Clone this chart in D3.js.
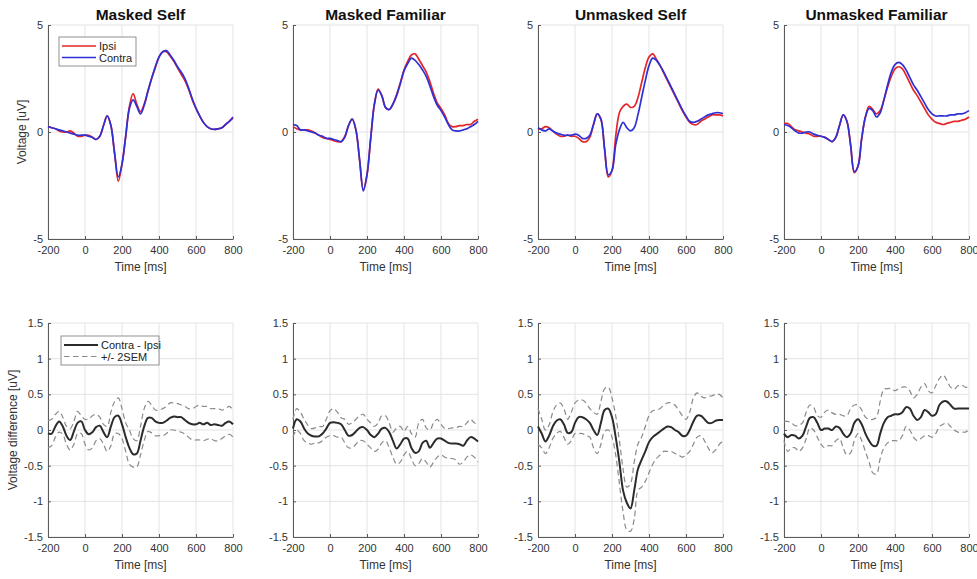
<!DOCTYPE html>
<html>
<head>
<meta charset="utf-8">
<script src="https://cdn.jsdelivr.net/npm/d3@7"></script>
<style>
  body { margin: 0; background: #fff; }
  svg { display: block; font-family: "Liberation Sans", Arial, sans-serif; }
</style>
</head>
<body>
<script>
// time axis (ms), one sample every 20 ms
const times = d3.range(-200, 801, 20);

const titles = ['Masked Self', 'Masked Familiar', 'Unmasked Self', 'Unmasked Familiar'];
const xTicks = [-200, 0, 200, 400, 600, 800];
const topYTicks = [-5, 0, 5];
const bottomYTicks = [-1.5, -1, -0.5, 0, 0.5, 1, 1.5];

// ERPs [uV]
const maskedSelfIpsi = [0.25,0.2,0.15,0.05,0.0,0.0,0.05,-0.05,-0.2,-0.2,-0.15,-0.15,-0.25,-0.35,-0.2,0.3,0.75,0.3,-1.0,-2.3,-1.5,-0.2,1.2,1.8,1.3,0.95,1.3,1.9,2.5,3.0,3.5,3.75,3.75,3.55,3.3,3.0,2.7,2.4,2.0,1.5,1.1,0.75,0.45,0.25,0.15,0.12,0.15,0.2,0.35,0.5,0.65];
const maskedSelfContra = [0.25,0.2,0.15,0.1,0.05,0.0,-0.05,-0.1,-0.15,-0.15,-0.15,-0.2,-0.25,-0.35,-0.2,0.3,0.75,0.3,-1.0,-2.1,-1.5,-0.2,1.1,1.5,1.2,0.85,1.25,1.9,2.5,3.05,3.5,3.75,3.8,3.6,3.35,3.05,2.8,2.5,2.05,1.55,1.1,0.75,0.45,0.25,0.15,0.12,0.15,0.2,0.35,0.5,0.7];
const maskedFamiliarIpsi = [0.25,0.15,0.1,0.1,0.1,0.05,-0.05,-0.15,-0.25,-0.3,-0.35,-0.4,-0.45,-0.45,-0.2,0.3,0.6,0.1,-1.3,-2.7,-2.0,-0.3,1.3,2.0,1.7,1.15,1.05,1.3,1.75,2.3,2.9,3.3,3.6,3.65,3.4,3.1,2.8,2.35,1.8,1.35,1.1,0.8,0.4,0.25,0.25,0.3,0.3,0.35,0.35,0.5,0.6];
const maskedFamiliarContra = [0.35,0.3,0.1,0.1,0.05,0.0,-0.05,-0.15,-0.2,-0.3,-0.3,-0.35,-0.4,-0.45,-0.25,0.3,0.6,0.1,-1.3,-2.75,-2.0,-0.3,1.3,1.95,1.7,1.15,1.05,1.3,1.7,2.25,2.85,3.2,3.45,3.35,3.15,2.9,2.6,2.15,1.65,1.25,1.0,0.7,0.35,0.1,0.05,0.05,0.1,0.15,0.25,0.35,0.5];
const unmaskedSelfIpsi = [0.15,0.15,0.25,0.2,0.05,-0.1,-0.2,-0.2,-0.15,-0.2,-0.2,-0.3,-0.45,-0.45,-0.25,0.35,0.85,0.6,-0.8,-2.1,-1.8,-0.2,0.9,1.2,1.3,1.15,1.2,1.6,2.3,3.0,3.5,3.65,3.4,3.1,2.75,2.4,2.05,1.7,1.35,1.0,0.7,0.45,0.35,0.35,0.5,0.6,0.7,0.8,0.8,0.8,0.75];
const unmaskedSelfContra = [0.2,0.1,0.05,0.15,0.05,-0.05,-0.1,-0.15,-0.15,-0.15,-0.1,-0.15,-0.3,-0.3,-0.15,0.35,0.85,0.6,-0.8,-2.0,-1.8,-0.6,0.1,0.45,0.2,0.05,0.2,0.8,1.6,2.4,3.1,3.45,3.35,3.1,2.8,2.45,2.1,1.75,1.4,1.05,0.75,0.5,0.45,0.5,0.6,0.7,0.8,0.85,0.9,0.9,0.85];
const unmaskedFamiliarIpsi = [0.4,0.4,0.25,0.1,0.05,0.0,-0.05,-0.1,-0.2,-0.2,-0.2,-0.25,-0.35,-0.45,-0.25,0.3,0.8,0.5,-0.6,-1.9,-1.6,-0.3,0.7,1.2,1.05,0.85,1.0,1.5,2.1,2.6,2.95,3.05,2.95,2.65,2.3,1.95,1.7,1.4,1.1,0.8,0.6,0.45,0.4,0.35,0.4,0.45,0.5,0.5,0.55,0.6,0.7];
const unmaskedFamiliarContra = [0.35,0.3,0.2,0.05,-0.05,-0.05,0.0,0.0,-0.1,-0.15,-0.2,-0.25,-0.35,-0.45,-0.25,0.3,0.8,0.5,-0.6,-1.85,-1.6,-0.3,0.7,1.1,1.0,0.7,0.9,1.5,2.2,2.8,3.15,3.25,3.15,2.9,2.55,2.2,1.95,1.65,1.35,1.05,0.85,0.75,0.75,0.75,0.75,0.8,0.8,0.85,0.85,0.9,1.0];

// Contra - Ipsi and +/- 2SEM bounds [uV]
const maskedSelfDiff = [-0.05,-0.05,0.05,0.12,0.05,-0.08,-0.14,-0.02,0.1,0.12,0.0,-0.06,-0.03,0.04,0.06,-0.03,-0.1,0.05,0.18,0.2,0.08,-0.1,-0.25,-0.34,-0.33,-0.15,0.05,0.17,0.17,0.12,0.1,0.1,0.13,0.17,0.19,0.18,0.18,0.14,0.1,0.08,0.08,0.1,0.08,0.1,0.07,0.08,0.07,0.06,0.1,0.12,0.08];
const maskedSelfUpper = [0.13,0.15,0.22,0.26,0.18,0.05,0.02,0.12,0.26,0.2,0.15,0.15,0.2,0.22,0.18,0.08,0.05,0.25,0.4,0.45,0.3,0.1,0.0,-0.12,-0.15,0.05,0.3,0.4,0.35,0.28,0.28,0.3,0.33,0.38,0.38,0.37,0.35,0.33,0.3,0.3,0.33,0.35,0.33,0.33,0.3,0.3,0.3,0.28,0.3,0.33,0.28];
const maskedSelfLower = [-0.25,-0.22,-0.1,-0.03,-0.06,-0.2,-0.28,-0.2,-0.05,-0.05,-0.2,-0.28,-0.25,-0.15,-0.12,-0.2,-0.3,-0.22,-0.05,-0.05,-0.12,-0.3,-0.48,-0.52,-0.52,-0.35,-0.15,-0.02,-0.04,-0.08,-0.08,-0.08,-0.05,0.0,0.0,-0.02,-0.03,-0.06,-0.1,-0.14,-0.14,-0.14,-0.15,-0.13,-0.12,-0.15,-0.15,-0.12,-0.08,-0.06,-0.1];
const maskedFamiliarDiff = [0.02,0.15,0.12,0.02,-0.05,-0.08,-0.09,-0.09,-0.05,0.02,0.1,0.11,0.1,0.08,0.0,-0.08,-0.07,-0.02,0.03,0.04,0.0,-0.07,-0.1,-0.05,0.02,0.03,-0.03,-0.15,-0.26,-0.2,-0.12,-0.12,-0.25,-0.32,-0.3,-0.18,-0.15,-0.25,-0.18,-0.12,-0.12,-0.15,-0.18,-0.19,-0.19,-0.2,-0.22,-0.15,-0.1,-0.12,-0.16];
const maskedFamiliarUpper = [0.15,0.3,0.25,0.15,0.07,0.02,0.03,0.05,0.05,0.15,0.27,0.3,0.25,0.17,0.15,0.08,0.1,0.15,0.2,0.22,0.15,0.1,0.05,0.1,0.2,0.2,0.1,-0.03,0.03,0.05,-0.02,0.05,-0.05,-0.1,0.1,0.15,0.03,0.0,0.1,0.15,0.08,0.02,0.02,0.03,0.03,0.05,0.05,0.1,0.15,0.1,0.08];
const maskedFamiliarLower = [-0.1,0.0,-0.05,-0.15,-0.18,-0.2,-0.18,-0.18,-0.15,-0.1,-0.08,-0.08,-0.1,-0.1,-0.18,-0.25,-0.25,-0.2,-0.15,-0.15,-0.2,-0.25,-0.3,-0.27,-0.18,-0.15,-0.25,-0.38,-0.48,-0.45,-0.35,-0.3,-0.4,-0.5,-0.47,-0.4,-0.45,-0.52,-0.45,-0.38,-0.35,-0.38,-0.4,-0.4,-0.42,-0.48,-0.45,-0.38,-0.35,-0.38,-0.45];
const unmaskedSelfDiff = [0.05,-0.05,-0.16,-0.08,0.05,0.13,0.15,0.08,-0.04,-0.03,0.1,0.18,0.18,0.15,0.1,0.0,-0.07,0.1,0.28,0.3,0.18,-0.1,-0.45,-0.85,-1.02,-1.1,-0.85,-0.55,-0.42,-0.3,-0.17,-0.1,-0.06,-0.02,0.02,0.05,0.04,0.0,-0.03,-0.08,-0.08,0.0,0.12,0.2,0.2,0.15,0.1,0.1,0.13,0.14,0.14];
const unmaskedSelfUpper = [0.3,0.15,0.0,0.07,0.25,0.35,0.38,0.3,0.15,0.25,0.38,0.42,0.42,0.38,0.3,0.25,0.22,0.4,0.58,0.6,0.45,0.2,-0.15,-0.55,-0.8,-0.75,-0.45,-0.2,-0.1,0.05,0.2,0.27,0.28,0.3,0.35,0.38,0.38,0.35,0.28,0.2,0.15,0.25,0.45,0.52,0.48,0.45,0.47,0.48,0.5,0.5,0.45];
const unmaskedSelfLower = [-0.2,-0.25,-0.33,-0.25,-0.12,-0.05,-0.02,-0.1,-0.2,-0.15,-0.05,-0.05,-0.05,-0.08,-0.1,-0.25,-0.33,-0.2,-0.02,0.0,-0.1,-0.35,-0.75,-1.15,-1.4,-1.42,-1.25,-0.85,-0.8,-0.72,-0.6,-0.48,-0.4,-0.35,-0.3,-0.3,-0.3,-0.33,-0.35,-0.38,-0.35,-0.3,-0.2,-0.1,-0.08,-0.15,-0.25,-0.32,-0.28,-0.2,-0.15];
const unmaskedFamiliarDiff = [-0.05,-0.1,-0.07,-0.08,-0.12,-0.08,0.05,0.17,0.18,0.1,0.0,0.02,0.02,0.0,0.05,0.03,-0.05,-0.1,-0.05,0.1,0.15,0.08,-0.05,-0.15,-0.22,-0.22,-0.05,0.1,0.18,0.2,0.22,0.22,0.25,0.32,0.3,0.2,0.14,0.18,0.28,0.25,0.2,0.22,0.35,0.4,0.4,0.35,0.3,0.3,0.3,0.3,0.3];
const unmaskedFamiliarUpper = [0.12,0.12,0.1,0.06,0.07,0.1,0.25,0.35,0.32,0.2,0.18,0.25,0.28,0.24,0.22,0.22,0.2,0.2,0.3,0.35,0.35,0.28,0.18,0.15,0.15,0.18,0.4,0.57,0.58,0.58,0.55,0.58,0.6,0.6,0.55,0.45,0.5,0.6,0.65,0.55,0.52,0.62,0.72,0.77,0.7,0.6,0.57,0.62,0.63,0.6,0.6];
const unmaskedFamiliarLower = [-0.15,-0.3,-0.25,-0.25,-0.3,-0.25,-0.12,0.03,0.0,-0.1,-0.2,-0.25,-0.22,-0.22,-0.15,-0.12,-0.25,-0.35,-0.32,-0.15,-0.05,-0.15,-0.3,-0.45,-0.6,-0.62,-0.4,-0.25,-0.18,-0.15,-0.15,-0.15,-0.08,0.05,0.0,-0.1,-0.15,-0.12,-0.08,-0.08,-0.1,-0.05,0.05,0.08,0.1,0.05,0.0,-0.03,-0.03,-0.03,0.0];

const ipsiSeries = [maskedSelfIpsi, maskedFamiliarIpsi, unmaskedSelfIpsi, unmaskedFamiliarIpsi];
const contraSeries = [maskedSelfContra, maskedFamiliarContra, unmaskedSelfContra, unmaskedFamiliarContra];
const diffSeries = [maskedSelfDiff, maskedFamiliarDiff, unmaskedSelfDiff, unmaskedFamiliarDiff];
const upperSeries = [maskedSelfUpper, maskedFamiliarUpper, unmaskedSelfUpper, unmaskedFamiliarUpper];
const lowerSeries = [maskedSelfLower, maskedFamiliarLower, unmaskedSelfLower, unmaskedFamiliarLower];

// layout
const W = 977, H = 579;
const panelLefts = [48, 293, 538, 784];
const panelW = 185;
const topRow = { y0: 25, y1: 239 };
const bottomRow = { y0: 323, y1: 537 };
const RED = '#e4262a', BLUE = '#2f2fd6';

const svg = d3.select('body').append('svg')
    .attr('width', W)
    .attr('height', H);

function drawAxes(g, x, y, yTicks, ylabel) {
    const [x0, x1] = x.range();
    const [y1, y0] = y.range();

    // grid
    g.append('g').selectAll('line').data(xTicks).join('line')
        .attr('x1', d => x(d)).attr('x2', d => x(d))
        .attr('y1', y0).attr('y2', y1)
        .attr('stroke', '#e3e3e3').attr('stroke-width', 1);
    g.append('g').selectAll('line').data(yTicks).join('line')
        .attr('x1', x0).attr('x2', x1)
        .attr('y1', d => y(d)).attr('y2', d => y(d))
        .attr('stroke', '#e3e3e3').attr('stroke-width', 1);

    const xa = g.append('g')
        .attr('transform', `translate(0,${y1})`)
        .call(d3.axisBottom(x).tickValues(xTicks).tickFormat(d => String(d))
            .tickSize(-3).tickSizeOuter(0).tickPadding(7));
    const ya = g.append('g')
        .attr('transform', `translate(${x0},0)`)
        .call(d3.axisLeft(y).tickValues(yTicks).tickFormat(d => String(d))
            .tickSize(-3).tickSizeOuter(0).tickPadding(5));

    [xa, ya].forEach(a => {
        a.select('.domain').attr('stroke', '#5a5a5a');
        a.selectAll('.tick line').attr('stroke', '#5a5a5a');
        a.selectAll('.tick text').attr('fill', '#333').attr('font-size', 11)
            .attr('font-family', '"Liberation Sans", Arial, sans-serif');
    });

    g.append('text')
        .attr('x', (x0 + x1) / 2).attr('y', y1 + 32)
        .attr('text-anchor', 'middle')
        .attr('font-size', 12).attr('fill', '#333')
        .text('Time [ms]');

    if (ylabel) {
        g.append('text')
            .attr('transform', `translate(${ylabel.x},${(y0 + y1) / 2}) rotate(-90)`)
            .attr('text-anchor', 'middle')
            .attr('font-size', 12).attr('fill', '#333')
            .text(ylabel.text);
    }
}

function drawLegend(g, x0, y0, w, items) {
    g.append('rect')
        .attr('x', x0).attr('y', y0)
        .attr('width', w).attr('height', 29)
        .attr('fill', '#fff').attr('stroke', '#777').attr('stroke-width', 0.8);
    items.forEach((it, i) => {
        const yy = y0 + 9 + i * 11.5;
        g.append('line')
            .attr('x1', x0 + 3).attr('x2', x0 + 37)
            .attr('y1', yy).attr('y2', yy)
            .attr('stroke', it.color).attr('stroke-width', it.width)
            .attr('stroke-dasharray', it.dash || null);
        g.append('text')
            .attr('x', x0 + 40).attr('y', yy + 4)
            .attr('font-size', 11).attr('fill', '#222')
            .text(it.label);
    });
}

titles.forEach((title, i) => {
    const left = panelLefts[i];
    const x = d3.scaleLinear().domain([-200, 800]).range([left, left + panelW]);

    // top row: ipsi / contra ERPs
    const yTop = d3.scaleLinear().domain([-5, 5]).range([topRow.y1, topRow.y0]);
    const gt = svg.append('g');
    drawAxes(gt, x, yTop, topYTicks, i === 0 ? { x: 26, text: 'Voltage [uV]' } : null);

    const lineTop = d3.line()
        .x((d, k) => x(times[k]))
        .y(d => yTop(d))
        .curve(d3.curveCatmullRom.alpha(0.5));

    gt.append('path').datum(ipsiSeries[i])
        .attr('fill', 'none').attr('stroke', RED).attr('stroke-width', 1.7)
        .attr('d', lineTop);
    gt.append('path').datum(contraSeries[i])
        .attr('fill', 'none').attr('stroke', BLUE).attr('stroke-width', 1.7)
        .attr('d', lineTop);

    gt.append('text')
        .attr('x', left + panelW / 2).attr('y', 20)
        .attr('text-anchor', 'middle')
        .attr('font-size', 15.5).attr('font-weight', 'bold').attr('fill', '#111')
        .text(title);

    // bottom row: difference wave with 2SEM bounds
    const yBot = d3.scaleLinear().domain([-1.5, 1.5]).range([bottomRow.y1, bottomRow.y0]);
    const gb = svg.append('g');
    drawAxes(gb, x, yBot, bottomYTicks, i === 0 ? { x: 17, text: 'Voltage difference [uV]' } : null);

    const lineBot = d3.line()
        .x((d, k) => x(times[k]))
        .y(d => yBot(d))
        .curve(d3.curveCatmullRom.alpha(0.5));

    gb.append('path').datum(diffSeries[i])
        .attr('fill', 'none').attr('stroke', '#2b2b2b').attr('stroke-width', 2)
        .attr('d', lineBot);
    [upperSeries[i], lowerSeries[i]].forEach(s => {
        gb.append('path').datum(s)
            .attr('fill', 'none').attr('stroke', '#8a8a8a').attr('stroke-width', 1.2)
            .attr('stroke-dasharray', '5.5,3.5')
            .attr('d', lineBot);
    });

    if (i === 0) {
        drawLegend(gt, 59, 37, 77, [
            { label: 'Ipsi', color: RED, width: 1.7 },
            { label: 'Contra', color: BLUE, width: 1.7 }
        ]);
        drawLegend(gb, 61, 336, 98, [
            { label: 'Contra - Ipsi', color: '#2b2b2b', width: 2 },
            { label: '+/- 2SEM', color: '#8a8a8a', width: 1.2, dash: '5.5,3.5' }
        ]);
    }
});
</script>
</body>
</html>
